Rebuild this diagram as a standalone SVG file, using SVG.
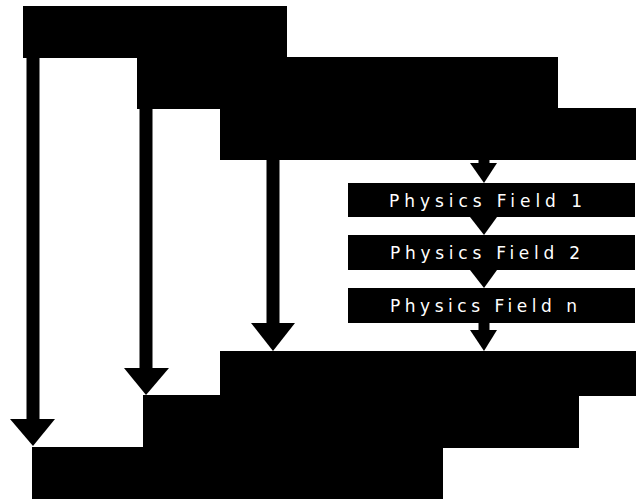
<svg xmlns="http://www.w3.org/2000/svg" width="636" height="499" viewBox="0 0 636 499">
  <style>
    .blk { fill: #000; }
    .lbl { fill: #fff; font-family: "DejaVu Sans", "Liberation Sans", sans-serif; font-size: 17px; }
    .shaft { stroke: #000; fill: none; }
    .head { fill: #000; }
  </style>
  <rect width="636" height="499" fill="#fff"/>

  <!-- upper staircase -->
  <g id="stage-top-1"><rect class="blk" x="23" y="6" width="264" height="52"/></g>
  <g id="stage-top-2"><rect class="blk" x="137" y="57" width="421" height="52"/></g>
  <g id="stage-top-3"><rect class="blk" x="220" y="108" width="416" height="52"/></g>

  <!-- physics field chain -->
  <g id="field-1">
    <rect class="blk" x="348" y="183" width="287" height="34"/>
    <text class="lbl" x="389" y="207" textLength="193" lengthAdjust="spacing">Physics Field 1</text>
  </g>
  <g id="field-2">
    <rect class="blk" x="348" y="235" width="287" height="35"/>
    <text class="lbl" x="390" y="259" textLength="190" lengthAdjust="spacing">Physics Field 2</text>
  </g>
  <g id="field-n">
    <rect class="blk" x="348" y="288" width="287" height="35"/>
    <text class="lbl" x="390" y="312" textLength="187" lengthAdjust="spacing">Physics Field n</text>
  </g>

  <!-- lower staircase -->
  <g id="stage-bottom-3"><rect class="blk" x="220" y="351" width="416" height="45"/></g>
  <g id="stage-bottom-2"><rect class="blk" x="143" y="395" width="436" height="53"/></g>
  <g id="stage-bottom-1"><rect class="blk" x="32" y="447" width="411" height="52"/></g>

  <g id="connectors">
    <!-- long bypass arrows -->
    <line class="shaft" x1="33" y1="57" x2="33" y2="420" stroke-width="13"/>
    <polygon class="head" points="10,419 55,419 33,446"/>
    <line class="shaft" x1="146" y1="108" x2="146" y2="369" stroke-width="13"/>
    <polygon class="head" points="124,368 169,368 146,395"/>
    <line class="shaft" x1="273" y1="160" x2="273" y2="324" stroke-width="13"/>
    <polygon class="head" points="251,323 295,323 273,351"/>

    <!-- chain arrows -->
    <line class="shaft" x1="484" y1="159" x2="484" y2="165" stroke-width="11"/>
    <polygon class="head" points="470,163 497,163 484,183"/>
    <line class="shaft" x1="484" y1="216" x2="484" y2="219" stroke-width="11"/>
    <polygon class="head" points="470,217 497,217 484,235"/>
    <line class="shaft" x1="484" y1="269" x2="484" y2="272" stroke-width="11"/>
    <polygon class="head" points="470,270 497,270 484,288"/>
    <line class="shaft" x1="484" y1="322" x2="484" y2="331" stroke-width="11"/>
    <polygon class="head" points="470,330 497,330 484,351"/>
  </g>
</svg>
